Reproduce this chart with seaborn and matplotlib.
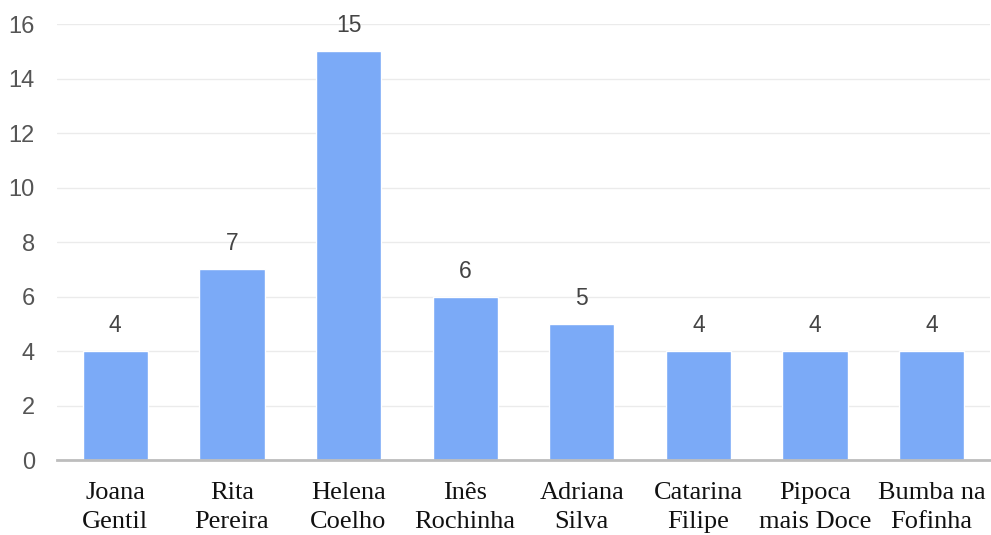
import pandas as pd
import matplotlib.pyplot as plt
import seaborn as sns

sns.set_style("white")

nomes = ["Joana\nGentil", "Rita\nPereira", "Helena\nCoelho", "Inês\nRochinha",
         "Adriana\nSilva", "Catarina\nFilipe", "Pipoca\nmais Doce", "Bumba na\nFofinha"]
votos = [4, 7, 15, 6, 5, 4, 4, 4]
y_ticks = [0, 2, 4, 6, 8, 10, 12, 14, 16]

df = pd.DataFrame({"nome": nomes, "votos": votos})

fig = plt.figure(figsize=(9.91, 5.35), dpi=100)
ax = fig.add_axes([0.0575, 0.14, 0.9415, 0.815])

sns.barplot(data=df, x="nome", y="votos", color="#7baaf7", saturation=1,
            width=0.56, ax=ax)

ax.set_ylim(0, 16)
ax.set_yticks(y_ticks)
ax.set_xlabel("")
ax.set_ylabel("")
ax.grid(axis="y", color="#ebebeb", linewidth=1)
ax.set_axisbelow(True)
for s in ["top", "right", "left"]:
    ax.spines[s].set_visible(False)
ax.spines["bottom"].set_color("#bdbdbd")
ax.spines["bottom"].set_linewidth(2)

ax.tick_params(axis="y", length=0, pad=16, labelsize=17, labelcolor="#555555")
ax.tick_params(axis="x", length=0, pad=16)
for lab in ax.get_yticklabels():
    lab.set_fontfamily("Liberation Sans")
for lab in ax.get_xticklabels():
    lab.set_fontfamily("Liberation Serif")
    lab.set_fontsize(19)
    lab.set_color("#111111")
    lab.set_linespacing(1.4)

for i, v in enumerate(votos):
    ax.annotate(str(v), (i, v), xytext=(0, 10), textcoords="offset points",
                ha="center", va="bottom", fontsize=16.5, color="#444444",
                family="Liberation Sans")

fig.savefig("out.png", dpi=100)
